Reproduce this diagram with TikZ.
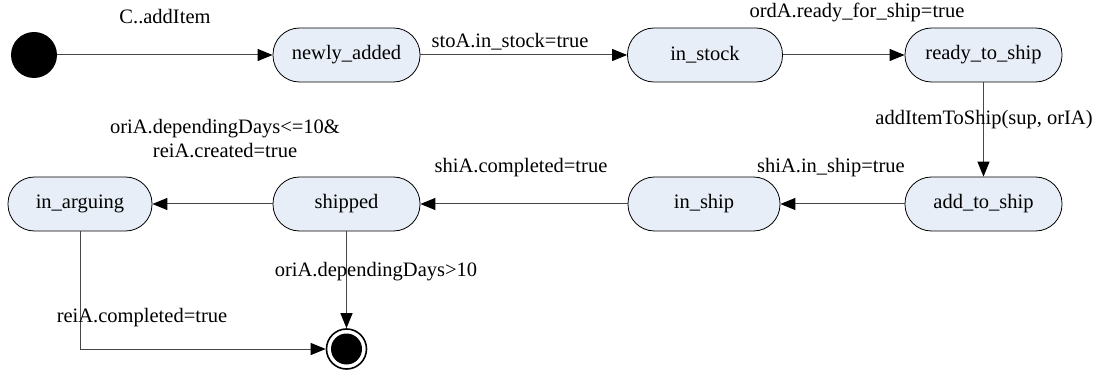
\documentclass[tikz,border=0pt]{standalone}
\usepackage{fontspec}
\setmainfont{Liberation Serif}
\usetikzlibrary{arrows.meta}
\definecolor{statefill}{RGB}{232,238,248}
\definecolor{edgecol}{RGB}{70,70,70}
\begin{document}
\begin{tikzpicture}[x=1pt,y=-1pt,
  state/.style={draw=black, fill=statefill, rounded corners=26.5pt, minimum height=54pt, inner sep=0pt, font=\fontsize{20.5}{24}\selectfont, line width=0.8pt},
  lab/.style={font=\fontsize{20.5}{24}\selectfont, inner sep=0pt, align=center},
  tr/.style={draw=edgecol, line width=1pt, -{Triangle[length=15pt,width=12pt,black]}}]
\useasboundingbox (0,0) rectangle (1098,374);
% initial state
\node[circle, fill=black, minimum size=46pt, inner sep=0pt] (init) at (34,55) {};
% states
\node[state, minimum width=147pt] (na) at (346.5,55) {newly\_added};
\node[state, minimum width=155pt] (is) at (705,55) {in\_stock};
\node[state, minimum width=157pt] (rs) at (983.5,55) {ready\_to\_ship};
\node[state, minimum width=157pt] (as) at (983.5,204) {add\_to\_ship};
\node[state, minimum width=152pt] (ish) at (704,204) {in\_ship};
\node[state, minimum width=147pt] (sh) at (346.5,204) {shipped};
\node[state, minimum width=144pt] (ia) at (80,204) {in\_arguing};
% final state
\node[circle, draw=black, line width=1.6pt, fill=white, minimum size=40pt, inner sep=0pt] (fin) at (346.5,349) {};
\node[circle, fill=black, minimum size=31pt, inner sep=0pt] (fininner) at (fin.center) {};
\coordinate (bend) at (ia.south |- fin.west);
% transitions
\draw[tr] (init) -- (na);
\draw[tr] (na) -- (is);
\draw[tr] (is) -- (rs);
\draw[tr] (rs) -- (as);
\draw[tr] (as) -- (ish);
\draw[tr] (ish) -- (sh);
\draw[tr] (sh) -- (ia);
\draw[tr] (sh) -- (fin);
\draw[tr] (ia.south) -- (bend) -- (fin.west);
% labels
\node[lab] (l1) at (165,17) {C..addItem};
\node[lab] (l2) at (510,42) {stoA.in\_stock=true};
\node[lab] (l3) at (857,12) {ordA.ready\_for\_ship=true};
\node[lab] (l4) at (984,120) {addItemToShip(sup, orIA)};
\node[lab] (l5) at (831,168) {shiA.in\_ship=true};
\node[lab] (l6) at (521,168) {shiA.completed=true};
\node[lab] (l7) at (225,139) {oriA.dependingDays<=10\&\\reiA.created=true};
\node[lab] (l8) at (376,272) {oriA.dependingDays>10};
\node[lab] (l9) at (142,318) {reiA.completed=true};
\end{tikzpicture}
\end{document}
